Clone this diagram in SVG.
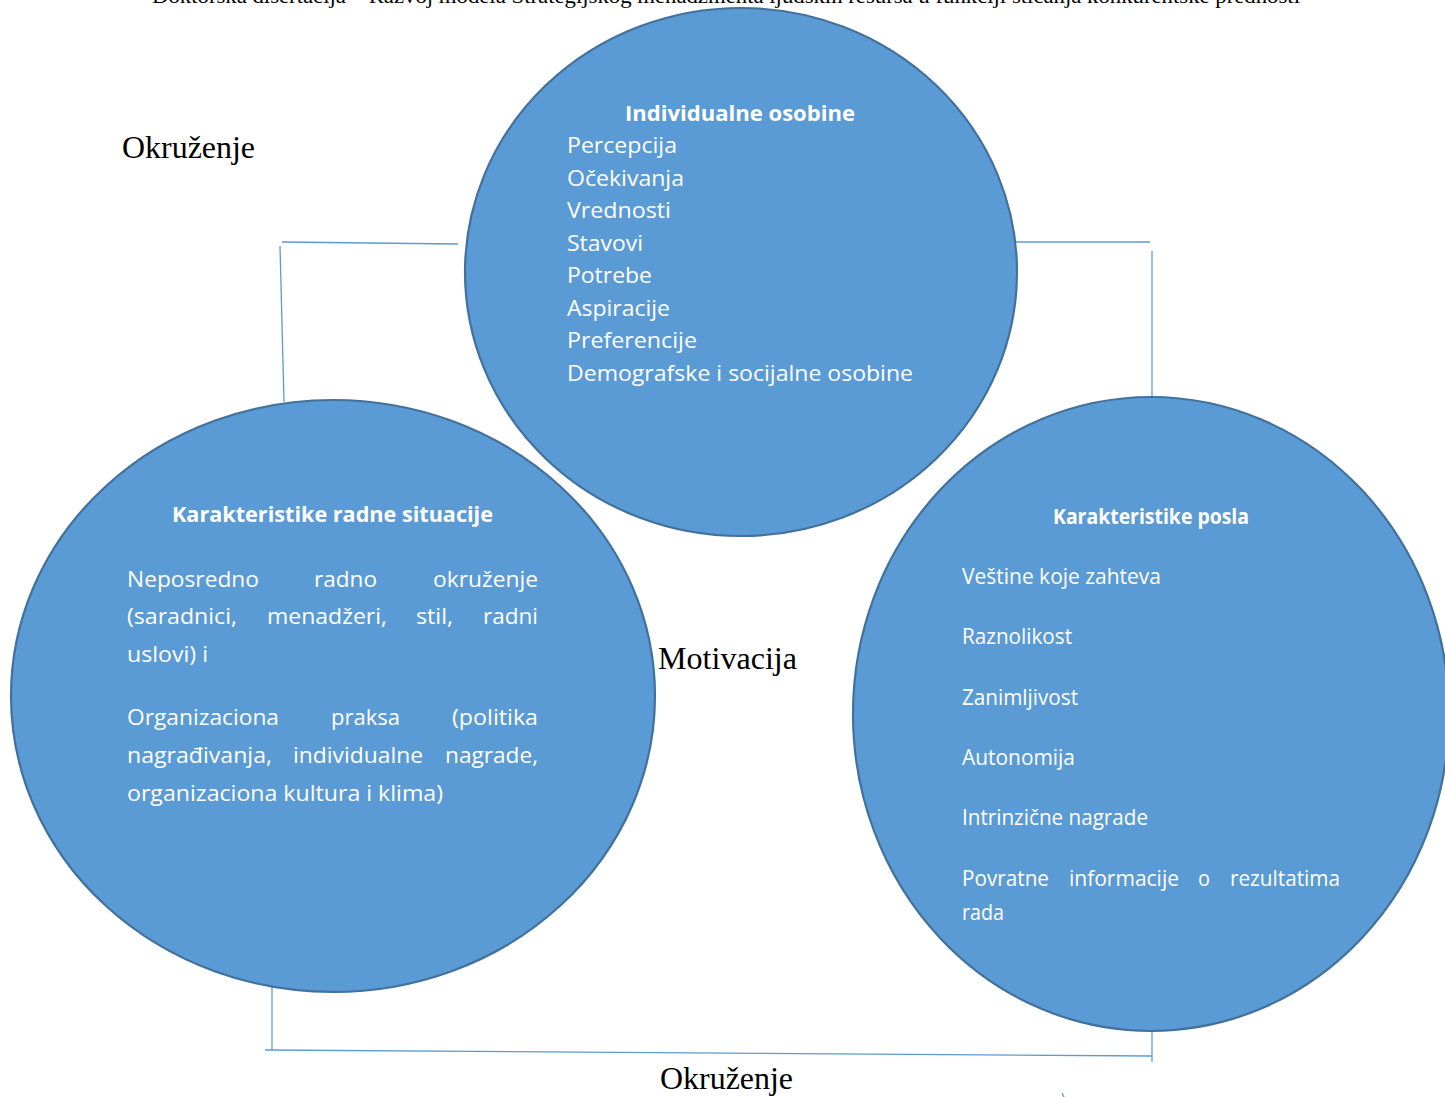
<svg xmlns="http://www.w3.org/2000/svg" width="1445" height="1097" viewBox="0 0 1445 1097">
<style>
.circ{fill:#5B9BD5;stroke:#41719C;stroke-width:2.2}
.ln{stroke:#5B9BD5;stroke-width:1.3;fill:none}
.serif{font-family:"Liberation Serif","Times New Roman",serif;fill:#000}
.w{font-family:"Open Sans","Noto Sans",sans-serif;fill:#fff;font-size:21px}
.b{font-family:"Open Sans","Noto Sans",sans-serif;fill:#fff;font-weight:bold;font-size:21px}
</style>
<rect width="1445" height="1097" fill="#fff"/>
<text class="serif" x="152" y="3" font-size="20" textLength="1148" lengthAdjust="spacingAndGlyphs">Doktorska disertacija – Razvoj modela Strategijskog menadžmenta ljudskih resursa u funkciji sticanja konkurentske prednosti</text>
<g id="connectors">
<line class="ln" x1="282" y1="242" x2="458" y2="244"/>
<line class="ln" x1="280" y1="246" x2="284" y2="402"/>
<line class="ln" x1="1016" y1="242" x2="1150" y2="242"/>
<line class="ln" x1="1152" y1="251" x2="1152" y2="398"/>
<line class="ln" x1="272" y1="985" x2="272" y2="1050"/>
<line class="ln" x1="265" y1="1050" x2="1152" y2="1056"/>
<line class="ln" x1="1152" y1="1030" x2="1152" y2="1062"/>
<line class="ln" x1="1062" y1="1093" x2="1064" y2="1097"/>
</g>
<g id="individualne">
<ellipse class="circ" cx="741" cy="272" rx="276" ry="264"/>
<text class="b" x="740" y="121" text-anchor="middle" font-size="22" textLength="230" lengthAdjust="spacingAndGlyphs">Individualne osobine</text>
<text class="w" x="567" y="153" textLength="110" lengthAdjust="spacingAndGlyphs">Percepcija</text>
<text class="w" x="567" y="186" textLength="117" lengthAdjust="spacingAndGlyphs">Očekivanja</text>
<text class="w" x="567" y="218" textLength="104" lengthAdjust="spacingAndGlyphs">Vrednosti</text>
<text class="w" x="567" y="251" textLength="76" lengthAdjust="spacingAndGlyphs">Stavovi</text>
<text class="w" x="567" y="283" textLength="85" lengthAdjust="spacingAndGlyphs">Potrebe</text>
<text class="w" x="567" y="316" textLength="103" lengthAdjust="spacingAndGlyphs">Aspiracije</text>
<text class="w" x="567" y="348" textLength="130" lengthAdjust="spacingAndGlyphs">Preferencije</text>
<text class="w" x="567" y="381" textLength="346" lengthAdjust="spacingAndGlyphs">Demografske i socijalne osobine</text>
</g>
<g id="radna-situacija">
<ellipse class="circ" cx="333" cy="696" rx="322" ry="296"/>
<text class="b" x="172" y="522" textLength="321" lengthAdjust="spacingAndGlyphs">Karakteristike radne situacije</text>
<text class="w" y="587"><tspan x="127" textLength="132" lengthAdjust="spacingAndGlyphs">Neposredno</tspan><tspan x="314" textLength="63" lengthAdjust="spacingAndGlyphs">radno</tspan><tspan x="433" textLength="105" lengthAdjust="spacingAndGlyphs">okruženje</tspan></text>
<text class="w" y="624"><tspan x="127" textLength="110" lengthAdjust="spacingAndGlyphs">(saradnici,</tspan><tspan x="267" textLength="120" lengthAdjust="spacingAndGlyphs">menadžeri,</tspan><tspan x="416" textLength="37" lengthAdjust="spacingAndGlyphs">stil,</tspan><tspan x="483" textLength="55" lengthAdjust="spacingAndGlyphs">radni</tspan></text>
<text class="w" x="127" y="662" textLength="81" lengthAdjust="spacingAndGlyphs">uslovi) i</text>
<text class="w" y="725"><tspan x="127" textLength="152" lengthAdjust="spacingAndGlyphs">Organizaciona</tspan><tspan x="331" textLength="69" lengthAdjust="spacingAndGlyphs">praksa</tspan><tspan x="452" textLength="86" lengthAdjust="spacingAndGlyphs">(politika</tspan></text>
<text class="w" y="763"><tspan x="127" textLength="145" lengthAdjust="spacingAndGlyphs">nagrađivanja,</tspan><tspan x="293" textLength="130" lengthAdjust="spacingAndGlyphs">individualne</tspan><tspan x="445" textLength="93" lengthAdjust="spacingAndGlyphs">nagrade,</tspan></text>
<text class="w" x="127" y="801" textLength="316" lengthAdjust="spacingAndGlyphs">organizaciona kultura i klima)</text>
</g>
<g id="karakteristike-posla">
<ellipse class="circ" cx="1151" cy="714" rx="298" ry="317"/>
<text class="b" x="1053" y="524" font-size="20" textLength="196" lengthAdjust="spacingAndGlyphs">Karakteristike posla</text>
<text class="w" x="962" y="584" font-size="20" textLength="199" lengthAdjust="spacingAndGlyphs">Veštine koje zahteva</text>
<text class="w" x="962" y="644" font-size="20" textLength="110" lengthAdjust="spacingAndGlyphs">Raznolikost</text>
<text class="w" x="962" y="705" font-size="20" textLength="116" lengthAdjust="spacingAndGlyphs">Zanimljivost</text>
<text class="w" x="962" y="765" font-size="20" textLength="113" lengthAdjust="spacingAndGlyphs">Autonomija</text>
<text class="w" x="962" y="825" font-size="20" textLength="186" lengthAdjust="spacingAndGlyphs">Intrinzične nagrade</text>
<text class="w" y="886" font-size="20"><tspan x="962" textLength="87" lengthAdjust="spacingAndGlyphs">Povratne</tspan><tspan x="1069" textLength="110" lengthAdjust="spacingAndGlyphs">informacije</tspan><tspan x="1198" textLength="12" lengthAdjust="spacingAndGlyphs">o</tspan><tspan x="1230" textLength="110" lengthAdjust="spacingAndGlyphs">rezultatima</tspan></text>
<text class="w" x="962" y="920" font-size="20" textLength="42" lengthAdjust="spacingAndGlyphs">rada</text>
</g>
<g id="labels">
<text class="serif" x="122" y="158" font-size="31" textLength="133" lengthAdjust="spacingAndGlyphs">Okruženje</text>
<text class="serif" x="658" y="669" font-size="31" textLength="139" lengthAdjust="spacingAndGlyphs">Motivacija</text>
<text class="serif" x="660" y="1089" font-size="31" textLength="133" lengthAdjust="spacingAndGlyphs">Okruženje</text>
</g>
</svg>
